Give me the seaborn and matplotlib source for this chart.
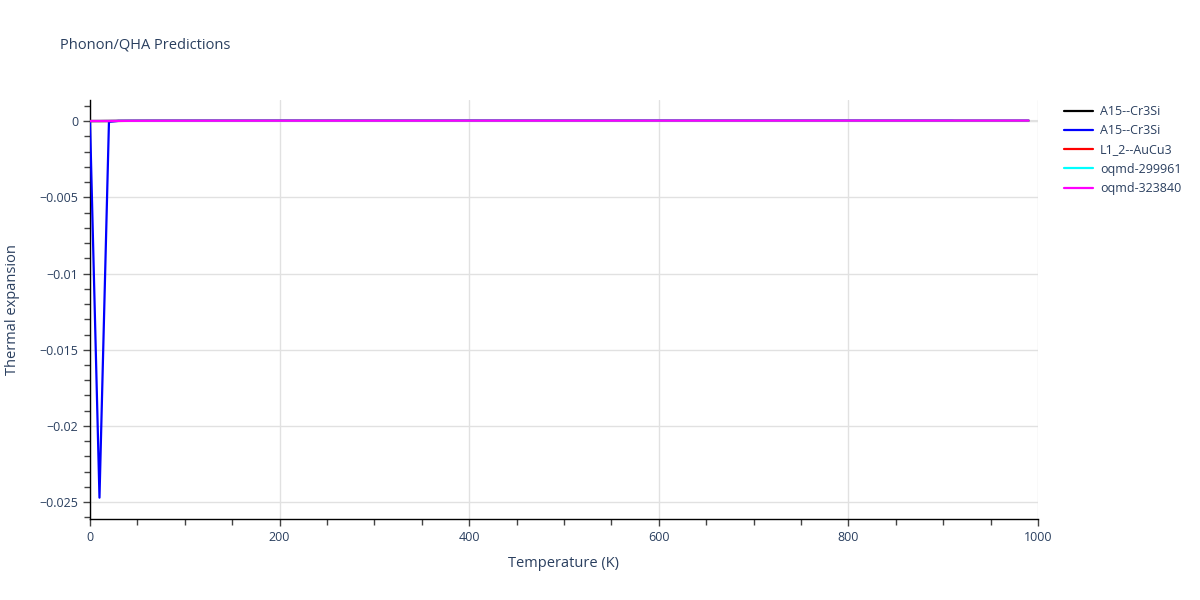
import numpy as np
import pandas as pd
import matplotlib
matplotlib.use("Agg")
import matplotlib.pyplot as plt
import seaborn as sns
from matplotlib.ticker import MultipleLocator, FuncFormatter

temperature = list(range(0, 1000, 10))

# values in units of 1e-6 (tiny, all appear at ~0 on this scale)
small_a = [0, 1, 4, 8, 11, 13, 15, 16, 17, 18, 18, 19, 19, 19, 20, 20, 20, 20, 20, 21,
           21, 21, 21, 21, 21, 21, 21, 22, 22, 22, 22, 22, 22, 22, 22, 22, 22, 23, 23, 23,
           23, 23, 23, 23, 23, 23, 23, 23, 24, 24, 24, 24, 24, 24, 24, 24, 24, 24, 24, 25,
           25, 25, 25, 25, 25, 25, 25, 25, 25, 25, 26, 26, 26, 26, 26, 26, 26, 26, 26, 26,
           27, 27, 27, 27, 27, 27, 27, 27, 27, 28, 28, 28, 28, 28, 28, 28, 28, 29, 29, 29]
blue_vals = [0.0, -0.0247, -0.00005,
             0.00001, 0.000012, 0.000014, 0.000015, 0.000016, 0.000017, 0.000017, 0.000018,
             0.000018, 0.000019, 0.000019, 0.000019, 0.00002, 0.00002, 0.00002, 0.00002, 0.00002,
             0.000021, 0.000021, 0.000021, 0.000021, 0.000021, 0.000021, 0.000022, 0.000022,
             0.000022, 0.000022, 0.000022, 0.000022, 0.000022, 0.000023, 0.000023, 0.000023,
             0.000023, 0.000023, 0.000023, 0.000023, 0.000024, 0.000024, 0.000024, 0.000024,
             0.000024, 0.000024, 0.000024, 0.000024, 0.000025, 0.000025, 0.000025, 0.000025,
             0.000025, 0.000025, 0.000025, 0.000025, 0.000026, 0.000026, 0.000026, 0.000026,
             0.000026, 0.000026, 0.000026, 0.000026, 0.000027, 0.000027, 0.000027, 0.000027,
             0.000027, 0.000027, 0.000027, 0.000027, 0.000028, 0.000028, 0.000028, 0.000028,
             0.000028, 0.000028, 0.000028, 0.000028, 0.000029, 0.000029, 0.000029, 0.000029,
             0.000029, 0.000029, 0.000029, 0.000029, 0.00003, 0.00003, 0.00003, 0.00003]
black_vals = [v * 1e-6 for v in small_a]
red_vals = [v * 0.9e-6 for v in small_a]
cyan_vals = [v * 1.2e-6 for v in small_a]
magenta_vals = [v * 1.1e-6 for v in small_a]

names = ["A15--Cr3Si", "A15--Cr3Si", "L1_2--AuCu3", "oqmd-299961", "oqmd-323840"]
colors = ["#000000", "#0000ff", "#ff0000", "#00ffff", "#ff00ff"]
series = [black_vals, blue_vals, red_vals, cyan_vals, magenta_vals]

sns.set_theme(style="white")
plt.rcParams['font.family'] = ['Open Sans', 'DejaVu Sans']

fig = plt.figure(figsize=(12, 6), dpi=100)
ax = fig.add_axes([90 / 1200, 1 - 519 / 600, (1038 - 90) / 1200, (519 - 100) / 600])

for i, (name, col, vals) in enumerate(zip(names, colors, series)):
    n = min(len(temperature), len(vals))
    df = pd.DataFrame({"T": temperature[:n], "v": vals[:n]})
    sns.lineplot(data=df, x="T", y="v", ax=ax, color=col, linewidth=1.6,
                 label=name, zorder=3 + i)

ax.set_xlim(0, 1000)
ax.set_ylim(-0.0261, 0.00138)
ax.xaxis.set_major_locator(MultipleLocator(200))
ax.xaxis.set_minor_locator(MultipleLocator(50))
ax.yaxis.set_major_locator(MultipleLocator(0.005))
ax.yaxis.set_minor_locator(MultipleLocator(0.001))
ax.yaxis.set_major_formatter(FuncFormatter(lambda v, p: ("%g" % v).replace("-", "\u2212") if abs(v) > 1e-12 else "0"))

ax.grid(True, which="major", color="#e1e1e1", linewidth=1, zorder=0)
ax.axhline(0, color="#e1e1e1", linewidth=1.5, zorder=1)
for s in ["top", "right"]:
    ax.spines[s].set_visible(False)
ax.spines["left"].set_color("#000000")
ax.spines["bottom"].set_color("#000000")
ax.spines["left"].set_linewidth(1)
ax.spines["bottom"].set_linewidth(1)

tc = "#2a3f5f"
ax.tick_params(axis="both", which="both", direction="out", length=5, width=1,
               color="#444444", labelcolor=tc, labelsize=9, left=True, bottom=True)
ax.tick_params(axis="both", which="minor", length=4)
ax.set_xlabel("Temperature (K)", color=tc, fontsize=10.5, labelpad=9)
ax.set_ylabel("Thermal expansion", color=tc, fontsize=10.5, labelpad=14)

fig.text(60 / 1200, 1 - 45 / 600, "Phonon/QHA Predictions", color=tc, fontsize=10.5,
         va="center", ha="left")

leg = ax.legend(loc="upper left", bbox_to_anchor=(1.022, 1.0), frameon=False,
                fontsize=9, handlelength=2.3, labelspacing=0.5, handletextpad=0.6,
                borderaxespad=0)
for t in leg.get_texts():
    t.set_color(tc)

fig.savefig("out.png", dpi=100)
